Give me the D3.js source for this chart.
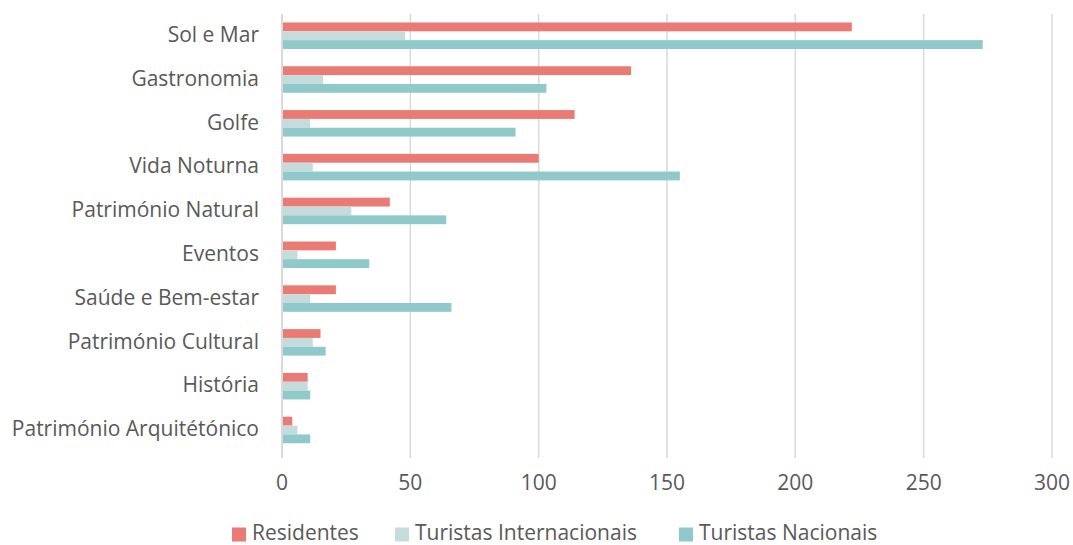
<!DOCTYPE html>
<html><head><meta charset="utf-8">
<script src="https://cdn.jsdelivr.net/npm/d3@7"></script>
<style>body{margin:0;background:#fff}svg{display:block}</style>
</head><body>
<svg id="c" width="1073" height="545"></svg>
<script>
const categories = ["Sol e Mar","Gastronomia","Golfe","Vida Noturna","Património Natural","Eventos","Saúde e Bem-estar","Património Cultural","História ","Património Arquitétónico"];
const seriesNames = ["Residentes","Turistas Internacionais","Turistas Nacionais"];
const residentes = [222,136,114,100,42,21,21,15,10,4];
const internacionais = [48,16,11,12,27,6,11,12,10,6];
const nacionais = [273,103,91,155,64,34,66,17,11,11];
const xTicks = [0,50,100,150,200,250,300];
const colors = ["#E97B74","#C5DBDC","#8FC9C9"];
const seriesValues = [residentes, internacionais, nacionais];

const svg = d3.select("#c");
const font = "'Open Sans', sans-serif";
const textColor = "#595959";
const fs = 21;

const x = d3.scaleLinear().domain([0,300]).range([282,1052]);
const y = d3.scaleBand().domain(categories).range([13.8,451.9]).paddingInner(0.395).paddingOuter(0.1975);
const ys = d3.scaleBand().domain(seriesNames).range([0,y.bandwidth()]);

// gridlines
svg.append("g").selectAll("line").data(xTicks).join("line")
  .attr("x1",d=>x(d)).attr("x2",d=>x(d)).attr("y1",14).attr("y2",458)
  .attr("stroke","#d9d9d9").attr("stroke-width",d=>d===0?2:1.5);

// bars
const g = svg.append("g").selectAll("g").data(categories).join("g")
  .attr("transform",c=>`translate(0,${y(c)})`);
g.selectAll("rect").data((c,i)=>seriesNames.map((s,j)=>({s,v:seriesValues[j][i],j})))
  .join("rect")
  .attr("x",x(0)+1).attr("y",d=>ys(d.s))
  .attr("width",d=>Math.max(0,x(d.v)-x(0)-1)).attr("height",ys.bandwidth())
  .attr("fill",d=>colors[d.j]);

// category labels
svg.append("g").selectAll("text").data(categories).join("text")
  .attr("x",259).attr("y",c=>y(c)+y.bandwidth()/2).attr("dy","0.3em")
  .attr("text-anchor","end").attr("font-family",font).attr("font-size",fs)
  .attr("fill",textColor).text(c=>c);

// x axis labels
svg.append("g").selectAll("text").data(xTicks).join("text")
  .attr("x",d=>x(d)).attr("y",482.5).attr("dy","0.35em")
  .attr("text-anchor","middle").attr("font-family",font).attr("font-size",fs)
  .attr("fill",textColor).text(d=>d);

// legend
const legendX = [232,395,679];
const lg = svg.append("g").selectAll("g").data(seriesNames).join("g")
  .attr("transform",(d,i)=>`translate(${legendX[i]},540)`);
lg.append("rect").attr("x",0).attr("y",-12.5).attr("width",14).attr("height",14).attr("fill",(d,i)=>colors[i]);
lg.append("text").attr("x",20).attr("y",0)
  .attr("font-family",font).attr("font-size",fs).attr("fill",textColor).text(d=>d);
</script>
</body></html>
